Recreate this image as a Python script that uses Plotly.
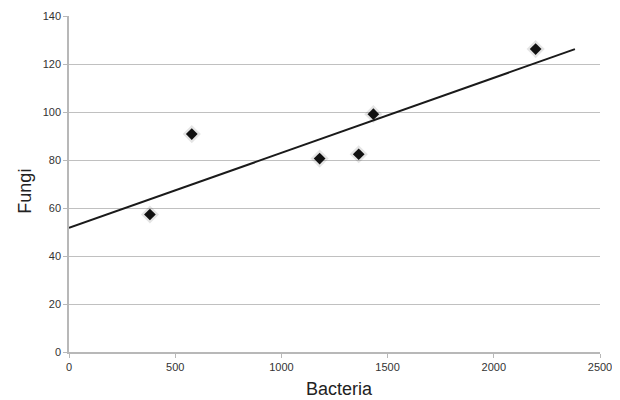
import plotly.graph_objects as go

bacteria = [381, 578, 1180, 1364, 1433, 2197]
fungi = [57.3, 90.8, 80.6, 82.4, 99.1, 126.2]
trend_x = [0, 2382]
trend_y = [51.7, 126.2]

fig = go.Figure()
# soft shadow
fig.add_trace(go.Scatter(x=bacteria, y=fungi, mode="markers",
                         marker=dict(symbol="diamond", size=14, color="rgba(0,0,0,0.10)", line=dict(width=0)),
                         hoverinfo="skip", showlegend=False))
fig.add_trace(go.Scatter(x=trend_x, y=trend_y, mode="lines",
                         line=dict(color="#1a1a1a", width=2), showlegend=False))
fig.add_trace(go.Scatter(x=bacteria, y=fungi, mode="markers",
                         marker=dict(symbol="diamond", size=9, color="#111111", line=dict(width=0)),
                         showlegend=False))

axis_font = dict(family="Liberation Sans, Arial, sans-serif", size=11, color="#333333")
fig.update_layout(
    width=612, height=392,
    margin=dict(l=61, r=20, t=8, b=48),
    paper_bgcolor="white", plot_bgcolor="white",
    font=dict(family="Liberation Sans, Arial, sans-serif"),
    xaxis=dict(range=[0, 2500], dtick=500, tick0=0, showgrid=False, zeroline=False,
               showline=True, linecolor="#b8b8b8", linewidth=1.5, automargin=False,
               ticks="outside", ticklen=4, tickcolor="#b8b8b8",
               tickfont=axis_font),
    yaxis=dict(range=[0, 140], dtick=20, tick0=0, showgrid=True, gridcolor="#c0c0c0", gridwidth=1,
               zeroline=False, showline=True, linecolor="#b8b8b8", linewidth=1.5, automargin=False,
               ticks="outside", ticklen=4, tickcolor="#b8b8b8",
               tickfont=axis_font),
    annotations=[
        dict(text="Bacteria", xref="paper", yref="paper", x=0.51, y=-0.11,
             xanchor="center", yanchor="middle", showarrow=False,
             font=dict(size=18, color="#222222")),
        dict(text="Fungi", xref="paper", yref="paper", x=-0.083, y=0.48,
             xanchor="center", yanchor="middle", showarrow=False, textangle=-90,
             font=dict(size=18, color="#222222")),
    ],
)
fig.write_html("out.html")
